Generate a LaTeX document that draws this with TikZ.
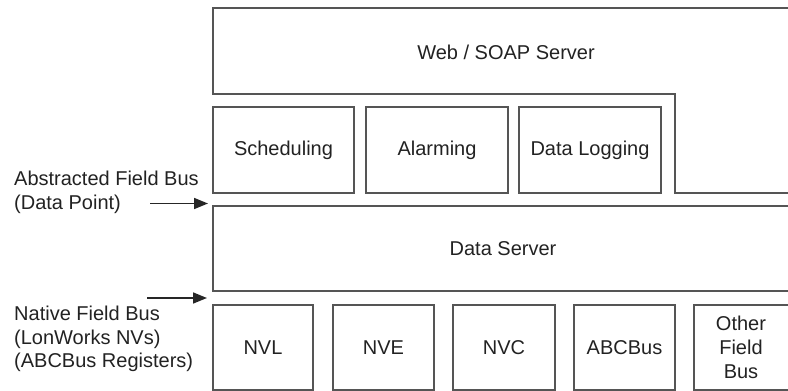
\documentclass[tikz,border=0pt]{standalone}
\usepackage{fontspec}
\setmainfont{Liberation Sans}
\usetikzlibrary{arrows.meta}
\definecolor{linegray}{HTML}{555555}
\definecolor{textgray}{HTML}{222222}
\begin{document}
\begin{tikzpicture}[x=1pt,y=-1pt,
  every node/.style={font=\fontsize{20}{23.5}\selectfont, text=textgray},
  box/.style={draw=linegray, line width=1.5pt, rectangle, inner sep=0pt, outer sep=0pt, align=center},
  frame/.style={draw=linegray, line width=1.5pt},
  lbl/.style={align=left, anchor=west, inner sep=0pt},
  busarrow/.style={draw=black!85, line width=1.6pt, -{Triangle[length=14pt,width=11pt]}}
]
\useasboundingbox (0,0) rectangle (788,391);
% Web / SOAP server (open to the right)
\draw[frame] (788,8) -- (213,8) -- (213,94) -- (675,94) -- (675,193) -- (788,193);
\node (web) at (506,52) {Web / SOAP Server};
% services
\node[box, minimum width=141pt, minimum height=86pt] (sched) at (283.5,150) {Scheduling};
\node[box, minimum width=142pt, minimum height=86pt] (alarm) at (437,150) {Alarming};
\node[box, minimum width=142pt, minimum height=86pt] (dlog) at (590,150) {Data Logging};
% data server
\draw[frame] (788,206) -- (213,206) -- (213,291) -- (788,291);
\node (dserver) at (503,249) {Data Server};
% field buses
\node[box, minimum width=100pt, minimum height=85pt] (nvl) at (263,347.5) {NVL};
\node[box, minimum width=101pt, minimum height=85pt] (nve) at (383.5,347.5) {NVE};
\node[box, minimum width=102pt, minimum height=85pt] (nvc) at (504,347.5) {NVC};
\node[box, minimum width=101pt, minimum height=85pt] (abc) at (624.5,347.5) {ABCBus};
\draw[frame] (788,305) -- (694,305) -- (694,390) -- (788,390);
\node[align=center, inner sep=0pt, font=\fontsize{20}{24}\selectfont] (other) at (741,347.5) {Other\\Field\\Bus};
% left labels
\node[lbl] (abs) at (14,192.5) {Abstracted Field Bus\\(Data Point)};
\node[lbl] (nat) at (14,339) {Native Field Bus\\(LonWorks NVs)\\(ABCBus Registers)};
% arrows
\coordinate (a1s) at (150,203.5);
\coordinate (a1e) at (208,203.5);
\coordinate (a2s) at (147,298);
\coordinate (a2e) at (207,298);
\draw[busarrow] (a1s) -- (a1e);
\draw[busarrow] (a2s) -- (a2e);
\end{tikzpicture}
\end{document}
